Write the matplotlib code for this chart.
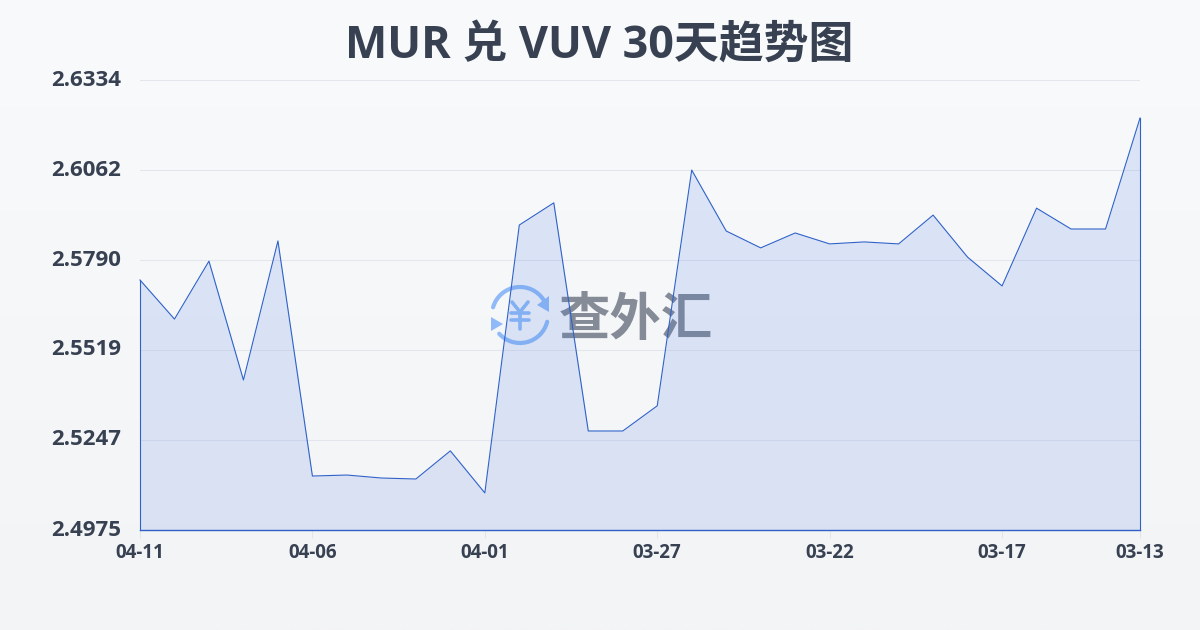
import numpy as np
import matplotlib
matplotlib.use('Agg')
import matplotlib.pyplot as plt
from matplotlib.patches import Arc, Polygon
from matplotlib.transforms import ScaledTranslation

plt.rcParams['font.family'] = ['Open Sans', 'Noto Sans CJK SC', 'DejaVu Sans']

# data, newest first as in the chart
dates = ['04-11', '04-10', '04-09', '04-08', '04-07', '04-06', '04-05', '04-04', '04-03', '04-02',
         '04-01', '03-31', '03-30', '03-29', '03-28', '03-27', '03-26', '03-25', '03-24', '03-23',
         '03-22', '03-21', '03-20', '03-19', '03-18', '03-17', '03-16', '03-15', '03-14', '03-13']
rates = [2.5730, 2.5612, 2.5787, 2.5428, 2.5848, 2.5138, 2.5141, 2.5132, 2.5129, 2.5214,
         2.5087, 2.5896, 2.5963, 2.5274, 2.5274, 2.5350, 2.6062, 2.5878, 2.5827, 2.5872,
         2.5839, 2.5845, 2.5839, 2.5926, 2.5799, 2.5712, 2.5947, 2.5884, 2.5884, 2.6219]
y_ticks = [2.4975, 2.5247, 2.5519, 2.5790, 2.6062, 2.6334]
y_labels = ['2.4975', '2.5247', '2.5519', '2.5790', '2.6062', '2.6334']
title = 'MUR 兑 VUV 30天趋势图'

W, H = 1200, 630
TEXT = '#374151'
LINE = '#2f62c9'

fig = plt.figure(figsize=(W / 100, H / 100), dpi=100)

# background gradient
ax_bg = fig.add_axes([0, 0, 1, 1], zorder=0)
grad = np.linspace(0, 1, 256).reshape(-1, 1, 1)
top = np.array([249, 250, 252]) / 255
bottom = np.array([243, 244, 246]) / 255
ax_bg.imshow(top + (bottom - top) * grad, aspect='auto', extent=[0, 1, 0, 1])
ax_bg.axis('off')

# watermark sits under the line, drawn in pixel coordinates
ax_wm = fig.add_axes([0, 0, 1, 1], zorder=1)
ax_wm.set_xlim(0, W)
ax_wm.set_ylim(H, 0)
ax_wm.axis('off')
BLUE = '#8fbaf7'
cx, cy = 520, 315
ax_wm.add_patch(Arc((cx, cy), 56, 56, theta1=196, theta2=328, color=BLUE, lw=3, capstyle='round'))
ax_wm.add_patch(Arc((cx, cy), 56, 56, theta1=14, theta2=138, color=BLUE, lw=3, capstyle='round'))
ax_wm.add_patch(Polygon([[549, 296], [549, 312], [537, 305]], color=BLUE, lw=0))
ax_wm.add_patch(Polygon([[491, 317], [491, 331], [503, 324]], color=BLUE, lw=0))
ax_wm.plot([512, 520, 528], [302, 312, 302], color=BLUE, lw=2.6, solid_capstyle='round')
ax_wm.plot([511, 529], [313, 313], color=BLUE, lw=2.6, solid_capstyle='round')
ax_wm.plot([511, 529], [320, 320], color=BLUE, lw=2.6, solid_capstyle='round')
ax_wm.plot([520, 520], [312, 329], color=BLUE, lw=2.6, solid_capstyle='round')
ax_wm.text(636, 319, '查外汇', ha='center', va='center', fontsize=37, fontweight='bold',
           color='#5f6776', alpha=0.75, family=['Noto Sans CJK SC'])

# main chart
ax = fig.add_axes([140 / W, 1 - 530 / H, 1000 / W, 450 / H], zorder=2)
ax.patch.set_alpha(0)
x = np.arange(len(rates))
ax.fill_between(x, rates, y_ticks[0], color='#3f73e0', alpha=0.15, lw=0, zorder=2)
ax.plot(x, rates, color=LINE, lw=0.8, zorder=3, clip_on=False)
ax.plot([0, 0], [y_ticks[0], rates[0]], color=LINE, lw=0.8, zorder=3, clip_on=False)
ax.plot([x[-1], x[-1]], [y_ticks[0], rates[-1]], color=LINE, lw=0.8, zorder=3, clip_on=False)
ax.plot([0, x[-1]], [y_ticks[0], y_ticks[0]], color=LINE, lw=1.0, zorder=3, clip_on=False)

ax.set_xlim(0, len(rates) - 1)
ax.set_ylim(y_ticks[0], y_ticks[-1])
ax.set_yticks(y_ticks)
ax.set_yticklabels(y_labels, fontsize=16, fontweight='bold', color=TEXT)
for lab in ax.get_yticklabels():
    lab.set_verticalalignment('center')
    lab.set_transform(lab.get_transform() + ScaledTranslation(0, 1.5 / 72, fig.dpi_scale_trans))
ax.set_xticks(x[::5].tolist() + [x[-1]])
ax.set_xticklabels(dates[::5] + [dates[-1]], fontsize=13.5, fontweight='bold', color=TEXT)
ax.tick_params(axis='y', length=0, pad=13.5)
ax.tick_params(axis='x', length=6, width=0.8, color='#e2e6ec', pad=3.5)
ax.grid(axis='y', color='#e3e7ed', lw=0.8, zorder=1)
ax.set_axisbelow(True)
for s in ax.spines.values():
    s.set_visible(False)

fig.text(599.5 / W, 1 - 46 / H, title, ha='center', va='center', fontsize=32.3,
         fontweight='bold', color=TEXT, zorder=5)

fig.savefig('out.png', dpi=100)
